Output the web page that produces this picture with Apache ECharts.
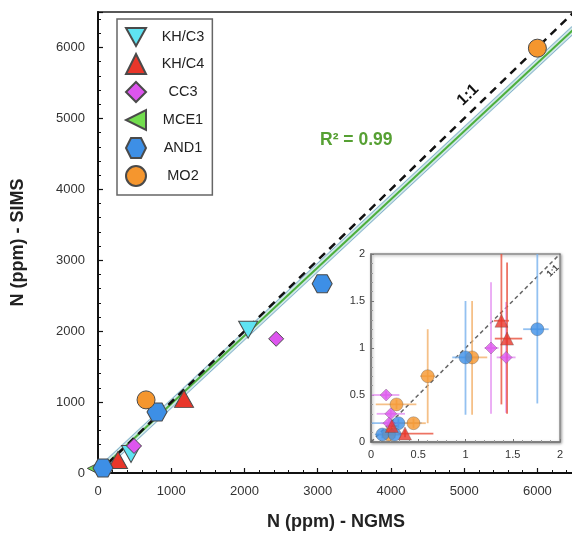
<!DOCTYPE html>
<html>
<head>
<meta charset="utf-8">
<script src="https://cdn.jsdelivr.net/npm/echarts@6/dist/echarts.min.js"></script>
<style>
  html, body { margin: 0; padding: 0; background: #fff; }
  #chart { width: 572px; height: 539px; }
</style>
</head>
<body>
<div id="chart"></div>
<script>
// main plot: [NGMS, SIMS] in ppm
const khc3 = [[2050, 2019], [451, 268]];
const khc4 = [[1175, 1045], [273, 184]];
const cc3 = [[2433, 1892], [492, 381]];
const mce1 = [[-50, 65]];
const and1 = [[3061, 2668], [806, 861], [68, 71]];
const mo2 = [[6000, 5990], [656, 1031]];

const oneToOne = [[0, 0], [6500, 6500]];
const regLine = [[0, 15], [6500, 6260]];
const regLow = [[0, -45], [6500, 6200]];
const regHigh = [[0, 75], [6500, 6320]];

const mainTicks = [0, 1000, 2000, 3000, 4000, 5000, 6000];

// inset: [x, y, xLow, xHigh, yLow, yHigh]
const insetAND1 = [
    [1.76, 1.20, 1.61, 1.88, 0.41, 2.10],
    [1.00, 0.90, 0.86, 1.14, 0.29, 1.50],
    [0.12, 0.08, 0.04, 0.20, 0.04, 0.12],
    [0.29, 0.20, 0.01, 0.54, 0.15, 0.25],
    [0.25, 0.08, 0.18, 0.32, 0.04, 0.12]
];
const insetMO2 = [
    [1.07, 0.90, 1.00, 1.23, 0.29, 1.50],
    [0.60, 0.70, 0.52, 0.68, 0.20, 1.20],
    [0.27, 0.40, 0.05, 0.48, 0.35, 0.45],
    [0.45, 0.20, 0.30, 0.58, 0.15, 0.25],
    [0.19, 0.08, 0.10, 0.30, 0.04, 0.12]
];
const insetCC3 = [
    [0.16, 0.50, 0.01, 0.30, 0.46, 0.54],
    [0.21, 0.30, 0.06, 0.36, 0.26, 0.34],
    [0.19, 0.20, 0.10, 0.30, 0.16, 0.24],
    [1.27, 1.00, 1.20, 1.35, 0.30, 1.70],
    [1.43, 0.90, 1.33, 1.53, 0.31, 1.49]
];
const insetKHC4 = [
    [1.38, 1.29, 1.30, 1.46, 0.40, 2.20],
    [1.44, 1.10, 1.31, 1.60, 0.30, 1.91],
    [0.36, 0.09, 0.29, 0.66, 0.05, 0.13],
    [0.22, 0.17, 0.16, 0.28, 0.13, 0.21]
];
const insetOneToOne = [[0, 0], [2, 2]];
const insetTicks = [0, 0.5, 1, 1.5, 2];

const hexagon = 'path://M25,0L75,0L100,50L75,100L25,100L0,50Z';
const downTri = 'path://M0,0L100,0L50,90Z';
const leftTri = 'path://M100,0L100,100L0,50Z';

const colors = {
    khc3: '#5fe3f2',
    khc4: '#e8362a',
    cc3: '#dd55ee',
    mce1: '#72dd4e',
    and1: '#3d8fe6',
    mo2: '#f5962e'
};
const edge = { borderColor: '#4a4a4a', borderWidth: 1 };
const font = '"Liberation Sans", Arial, sans-serif';

function scatter(name, data, symbol, size, color) {
    return {
        name: name,
        type: 'scatter',
        xAxisIndex: 0,
        yAxisIndex: 0,
        data: data,
        symbol: symbol,
        symbolSize: size,
        clip: false,
        itemStyle: Object.assign({ color: color, opacity: 1 }, edge),
        z: 5
    };
}

function line(data, color, width, type, z) {
    return {
        type: 'line',
        xAxisIndex: 0,
        yAxisIndex: 0,
        data: data,
        symbol: 'none',
        silent: true,
        lineStyle: { color: color, width: width, type: type },
        z: z
    };
}

function errorBars(name, data, color) {
    return {
        name: name + ' err',
        type: 'custom',
        xAxisIndex: 1,
        yAxisIndex: 1,
        clip: true,
        data: data,
        encode: { x: 0, y: 1 },
        z: 22,
        renderItem: function (params, api) {
            const x = api.value(0), y = api.value(1);
            const a = api.coord([api.value(2), y]);
            const b = api.coord([api.value(3), y]);
            const c = api.coord([x, api.value(4)]);
            const d = api.coord([x, api.value(5)]);
            const style = { stroke: color, lineWidth: 1.8, opacity: 0.8 };
            return {
                type: 'group',
                children: [
                    { type: 'line', shape: { x1: a[0], y1: a[1], x2: b[0], y2: b[1] }, style: style },
                    { type: 'line', shape: { x1: c[0], y1: c[1], x2: d[0], y2: d[1] }, style: style }
                ]
            };
        }
    };
}

function insetPoints(name, data, symbol, size, color) {
    return {
        name: name + ' inset',
        type: 'scatter',
        xAxisIndex: 1,
        yAxisIndex: 1,
        data: data,
        encode: { x: 0, y: 1 },
        symbol: symbol,
        symbolSize: size,
        itemStyle: { color: color, borderColor: 'rgba(80,80,80,0.5)', borderWidth: 0.8 },
        z: 24
    };
}

const chart = echarts.init(document.getElementById('chart'));

const option = {
    animation: false,
    textStyle: { fontFamily: font },
    grid: [
        {
            left: 98, width: 476, top: 12, bottom: 66,
            outerBoundsMode: 'none',
            show: true, borderColor: '#222', borderWidth: 1.5
        },
        {
            left: 371, top: 254, width: 189, height: 188,
            outerBoundsMode: 'none',
            show: true, backgroundColor: '#fff', borderColor: '#8a8a8a', borderWidth: 1.5,
            shadowColor: 'rgba(0,0,0,0.35)', shadowBlur: 3, shadowOffsetX: 1, shadowOffsetY: 1,
            z: 10
        }
    ],
    legend: {
        orient: 'vertical',
        left: 117,
        top: 19,
        padding: [8, 8, 8, 8],
        itemGap: 6,
        itemWidth: 20,
        itemHeight: 20,
        borderColor: '#666',
        borderWidth: 1.5,
        data: ['KH/C3', 'KH/C4', 'CC3', 'MCE1', 'AND1', 'MO2'],
        formatter: '{t|{name}}',
        textStyle: {
            fontFamily: font,
            rich: { t: { width: 64, align: 'center', fontSize: 14.5, color: '#222', fontFamily: font } }
        }
    },
    xAxis: [
        {
            gridIndex: 0,
            type: 'value',
            min: 0, max: 6500, interval: 1000,
            name: 'N (ppm) - NGMS',
            nameLocation: 'middle',
            nameGap: 40,
            nameTextStyle: { fontSize: 18, fontWeight: 'bold', color: '#222', fontFamily: font },
            axisLine: { onZero: false, lineStyle: { color: '#111', width: 2 } },
            axisTick: { inside: true, length: 5, lineStyle: { color: '#111', width: 1.2 } },
            minorTick: { show: true, splitNumber: 5, length: 3, lineStyle: { color: '#111' } },
            splitLine: { show: false },
            axisLabel: {
                fontSize: 13, color: '#333', margin: 12, fontFamily: font,
                formatter: v => mainTicks.includes(v) ? String(v) : ''
            }
        },
        {
            gridIndex: 1,
            type: 'value',
            min: 0, max: 2, interval: 0.5,
            axisLine: { onZero: false, lineStyle: { color: '#777', width: 1.5 } },
            axisTick: { inside: true, length: 3, lineStyle: { color: '#777' } },
            minorTick: { show: true, splitNumber: 5, length: 2, lineStyle: { color: '#999' } },
            splitLine: { show: false },
            axisLabel: {
                fontSize: 11, color: '#333', margin: 7, fontFamily: font,
                formatter: v => insetTicks.includes(v) ? String(v) : ''
            },
            z: 20
        }
    ],
    yAxis: [
        {
            gridIndex: 0,
            type: 'value',
            min: 0, max: 6500, interval: 1000,
            name: 'N (ppm) - SIMS',
            nameLocation: 'middle',
            nameGap: 71,
            nameTextStyle: { fontSize: 18, fontWeight: 'bold', color: '#222', fontFamily: font },
            axisLine: { onZero: false, lineStyle: { color: '#111', width: 2 } },
            axisTick: { inside: true, length: 5, lineStyle: { color: '#111', width: 1.2 } },
            minorTick: { show: true, splitNumber: 5, length: 3, lineStyle: { color: '#111' } },
            splitLine: { show: false },
            axisLabel: {
                fontSize: 13, color: '#333', margin: 13, fontFamily: font,
                formatter: v => mainTicks.includes(v) ? String(v) : ''
            }
        },
        {
            gridIndex: 1,
            type: 'value',
            min: 0, max: 2, interval: 0.5,
            axisLine: { onZero: false, lineStyle: { color: '#777', width: 1.5 } },
            axisTick: { inside: true, length: 3, lineStyle: { color: '#777' } },
            minorTick: { show: true, splitNumber: 5, length: 2, lineStyle: { color: '#999' } },
            splitLine: { show: false },
            axisLabel: {
                fontSize: 11, color: '#333', margin: 6, fontFamily: font,
                formatter: v => insetTicks.includes(v) ? String(v) : ''
            },
            z: 20
        }
    ],
    graphic: [
        {
            type: 'text',
            left: 320, top: 131,
            style: { text: 'R² = 0.99', fill: '#56a033', font: 'bold 17.5px ' + font }
        },
        {
            type: 'text',
            x: 468, y: 95,
            rotation: 0.77,
            style: { text: '1:1', fill: '#111', font: 'bold 16px ' + font, align: 'center', verticalAlign: 'middle' }
        },
        {
            type: 'text',
            x: 553, y: 271,
            rotation: 0.78,
            z: 100,
            style: { text: '1:1', fill: '#444', font: 'bold 9px ' + font, align: 'center', verticalAlign: 'middle' }
        }
    ],
    series: [
        line(regLine, '#cfe9e6', 8, 'solid', 1),
        line(regLow, '#86aed0', 1, 'solid', 2),
        line(regHigh, '#86aed0', 1, 'solid', 2),
        line(regLine, '#4caf3c', 2, 'solid', 3),
        line(oneToOne, '#111', 2.5, [8, 6], 4),
        scatter('KH/C3', khc3, downTri, [19, 17], colors.khc3),
        scatter('KH/C4', khc4, 'triangle', [19, 17], colors.khc4),
        scatter('CC3', cc3, 'diamond', 15, colors.cc3),
        scatter('MCE1', mce1, leftTri, [14, 14], colors.mce1),
        scatter('AND1', and1, hexagon, [20, 18], colors.and1),
        scatter('MO2', mo2, 'circle', 18, colors.mo2),
        {
            type: 'line',
            xAxisIndex: 1,
            yAxisIndex: 1,
            data: insetOneToOne,
            symbol: 'none',
            silent: true,
            lineStyle: { color: '#666', width: 1.5, type: [4, 3] },
            z: 21
        },
        errorBars('AND1', insetAND1, '#78b2ee'),
        errorBars('MO2', insetMO2, '#f2b06a'),
        errorBars('CC3', insetCC3, '#e490f0'),
        errorBars('KH/C4', insetKHC4, '#e8503c'),
        insetPoints('MO2', insetMO2, 'circle', 13, colors.mo2),
        insetPoints('AND1', insetAND1, 'circle', 13, colors.and1),
        insetPoints('CC3', insetCC3, 'diamond', 12, colors.cc3),
        insetPoints('KH/C4', insetKHC4, 'triangle', 13, colors.khc4)
    ]
};

chart.setOption(option);
window.addEventListener('resize', () => chart.resize());
</script>
</body>
</html>
